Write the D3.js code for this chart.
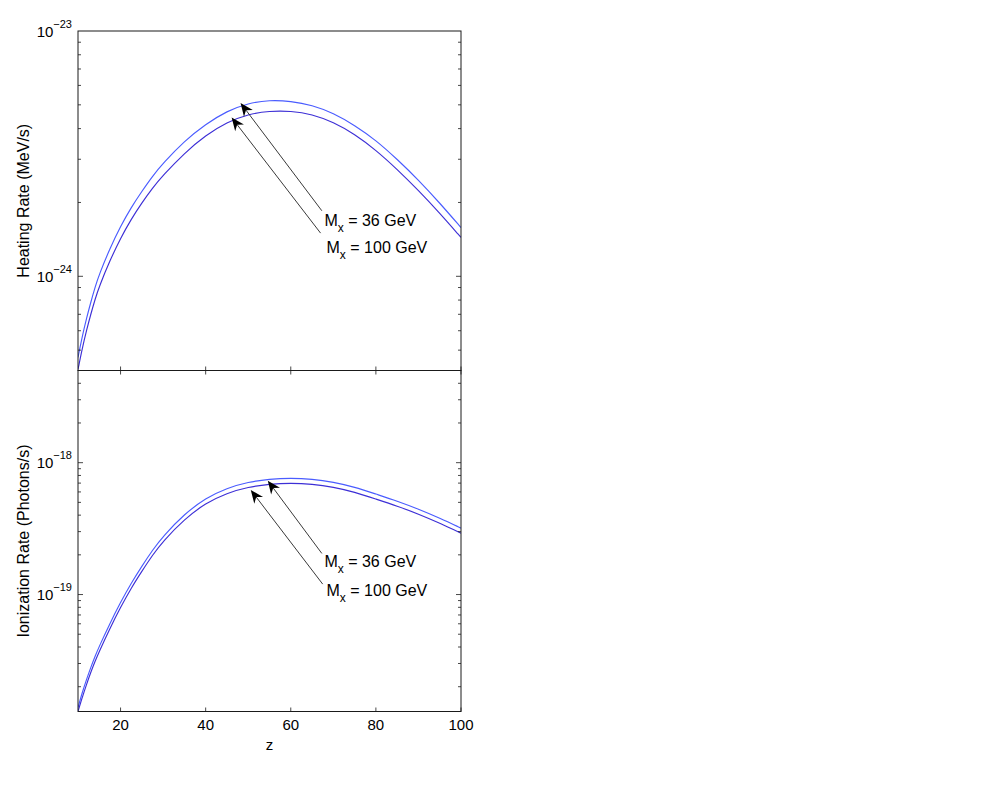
<!DOCTYPE html>
<html>
<head>
<meta charset="utf-8">
<script src="https://cdn.jsdelivr.net/npm/d3@7"></script>
<style>
  html, body { margin: 0; padding: 0; background: #fff; }
  svg { display: block; font-family: "Liberation Sans", Arial, Helvetica, sans-serif; }
</style>
</head>
<body>
<svg id="chart" width="1003" height="789"></svg>
<script>
// ---------------- data ----------------
const zValues = [10, 11, 12, 13, 14, 15, 17.5, 20, 22.5, 25, 27.5, 30, 35, 40, 45, 50, 55, 60, 65, 70, 75, 80, 85, 90, 95, 100];

const heating36 = [4.67e-25, 5.69e-25, 6.74e-25, 7.83e-25, 9.02e-25, 1.019e-24, 1.30e-24, 1.60e-24, 1.91e-24, 2.22e-24,
                   2.56e-24, 2.89e-24, 3.56e-24, 4.17e-24, 4.72e-24, 5.08e-24, 5.23e-24, 5.18e-24, 4.99e-24, 4.63e-24,
                   4.13e-24, 3.59e-24, 3.00e-24, 2.47e-24, 1.99e-24, 1.58e-24];
const heating100 = [4.17e-25, 5.08e-25, 6.02e-25, 7.00e-25, 8.05e-25, 9.10e-25, 1.16e-24, 1.43e-24, 1.71e-24, 1.99e-24,
                    2.29e-24, 2.58e-24, 3.18e-24, 3.76e-24, 4.25e-24, 4.58e-24, 4.72e-24, 4.72e-24, 4.58e-24, 4.25e-24,
                    3.80e-24, 3.27e-24, 2.73e-24, 2.24e-24, 1.81e-24, 1.44e-24];

const ionization36 = [1.39e-20, 1.81e-20, 2.27e-20, 2.80e-20, 3.40e-20, 4.05e-20, 6.05e-20, 8.74e-20, 1.22e-19, 1.64e-19,
                      2.17e-19, 2.77e-19, 4.08e-19, 5.39e-19, 6.42e-19, 7.13e-19, 7.52e-19, 7.65e-19, 7.52e-19, 7.13e-19,
                      6.54e-19, 5.78e-19, 5.12e-19, 4.45e-19, 3.80e-19, 3.19e-19];
const ionization100 = [1.30e-20, 1.66e-20, 2.08e-20, 2.57e-20, 3.11e-20, 3.71e-20, 5.54e-20, 8.01e-20, 1.12e-19, 1.50e-19,
                       1.99e-19, 2.54e-19, 3.73e-19, 4.94e-19, 5.89e-19, 6.54e-19, 6.89e-19, 7.01e-19, 6.89e-19, 6.54e-19,
                       5.99e-19, 5.30e-19, 4.69e-19, 4.08e-19, 3.48e-19, 2.92e-19];

const xTicks = [20, 40, 60, 80, 100];
const xDomain = [10, 100];
const heatingDomain = [Math.pow(10, -24.384), 1e-23];
const ionizationDomain = [Math.pow(10, -19.887), Math.pow(10, -17.301)];
const heatingTickLabels = [1e-24, 1e-23];
const ionizationTickLabels = [1e-19, 1e-18];

const massLabels = ["36 GeV", "100 GeV"];
// annotation arrows in data coordinates: [tipZ, tipVal, tailZ, tailVal, textZ, textVal]
const heatingArrows = [
  [48.2, 5.09e-24, 67.3, 1.85e-24, 67.9, 1.60e-24],
  [46.1, 4.44e-24, 67.0, 1.50e-24, 68.4, 1.25e-24]
];
const ionizationArrows = [
  [54.6, 7.30e-19, 67.3, 2.05e-19, 67.9, 1.62e-19],
  [50.6, 6.21e-19, 67.5, 1.20e-19, 68.4, 9.70e-20]
];

// ---------------- layout ----------------
const svg = d3.select("#chart");
const left = 78, right = 461;
const panels = [
  { top: 31, bottom: 370.5, domain: heatingDomain, s1: heating36, s2: heating100,
    labels: heatingTickLabels, ylabel: "Heating Rate (MeV/s)", arrows: heatingArrows, topTicks: false, xLabels: false },
  { top: 370.5, bottom: 711.5, domain: ionizationDomain, s1: ionization36, s2: ionization100,
    labels: ionizationTickLabels, ylabel: "Ionization Rate (Photons/s)", arrows: ionizationArrows, topTicks: true, xLabels: true }
];
const colors = ["#4a5cff", "#3d2fd6"];
const axisColor = "#1a1a1a";

const x = d3.scaleLinear().domain(xDomain).range([left, right]);

panels.forEach((p, pi) => {
  const y = d3.scaleLog().domain(p.domain).range([p.bottom, p.top]);
  const g = svg.append("g");

  const clipId = "clip" + pi;
  svg.append("clipPath").attr("id", clipId)
    .append("rect").attr("x", left).attr("y", p.top).attr("width", right - left).attr("height", p.bottom - p.top);

  // curves
  const line = d3.line().x((d, i) => x(zValues[i])).y(d => y(d)).curve(d3.curveBasis);
  [p.s1, p.s2].forEach((s, si) => {
    g.append("path").attr("d", line(s)).attr("fill", "none")
      .attr("stroke", colors[si]).attr("stroke-width", 1.15)
      .attr("clip-path", `url(#${clipId})`);
  });

  // y ticks (left and right, inward)
  const allTicks = y.ticks().filter(t => t >= p.domain[0] * 0.999 && t <= p.domain[1] * 1.001);
  allTicks.forEach(t => {
    const isMajor = Math.abs(Math.log10(t) - Math.round(Math.log10(t))) < 1e-6;
    const len = isMajor ? 5 : 3;
    const yy = y(t);
    g.append("line").attr("x1", left).attr("x2", left + len).attr("y1", yy).attr("y2", yy)
      .attr("stroke", axisColor).attr("stroke-width", 0.8);
    g.append("line").attr("x1", right).attr("x2", right - len).attr("y1", yy).attr("y2", yy)
      .attr("stroke", axisColor).attr("stroke-width", 0.8);
  });

  // y tick labels
  p.labels.forEach(t => {
    const e = Math.round(Math.log10(t));
    const txt = g.append("text").attr("x", left - 6).attr("y", y(t) + 5.5)
      .attr("text-anchor", "end").attr("font-size", 15).attr("fill", "#000");
    txt.append("tspan").text("10");
    txt.append("tspan").attr("dy", -9).attr("font-size", 11).text("\u2212" + Math.abs(e));
  });

  // x ticks
  xTicks.forEach(t => {
    const xx = x(t);
    g.append("line").attr("x1", xx).attr("x2", xx).attr("y1", p.bottom).attr("y2", p.bottom - 4)
      .attr("stroke", axisColor).attr("stroke-width", 0.8);
    if (p.topTicks) {
      g.append("line").attr("x1", xx).attr("x2", xx).attr("y1", p.top).attr("y2", p.top + 4)
        .attr("stroke", axisColor).attr("stroke-width", 0.8);
    }
    if (p.xLabels) {
      g.append("text").attr("x", xx).attr("y", p.bottom + 18).attr("text-anchor", "middle")
        .attr("font-size", 15).attr("fill", "#000").text(t);
    }
  });

  // frame
  g.append("rect").attr("x", left).attr("y", p.top).attr("width", right - left).attr("height", p.bottom - p.top)
    .attr("fill", "none").attr("stroke", axisColor).attr("stroke-width", 1);

  // y label
  const cy = (p.top + p.bottom) / 2;
  g.append("text").attr("transform", `translate(29,${cy}) rotate(-90)`)
    .attr("text-anchor", "middle").attr("font-size", 16).attr("fill", "#000").text(p.ylabel);

  // annotations
  p.arrows.forEach((a, ai) => {
    const tx = x(a[0]), ty = y(a[1]), sx = x(a[2]), sy = y(a[3]);
    const dx = tx - sx, dy = ty - sy, L = Math.hypot(dx, dy);
    const ux = dx / L, uy = dy / L, nx = -uy, ny = ux;
    const hl = 13, hw = 5.5, notch = 4;
    g.append("line").attr("x1", sx).attr("y1", sy)
      .attr("x2", tx - ux * (hl - notch)).attr("y2", ty - uy * (hl - notch))
      .attr("stroke", "#222").attr("stroke-width", 0.9);
    const pts = [
      [tx, ty],
      [tx - ux * hl + nx * hw, ty - uy * hl + ny * hw],
      [tx - ux * (hl - notch), ty - uy * (hl - notch)],
      [tx - ux * hl - nx * hw, ty - uy * hl - ny * hw]
    ];
    g.append("path").attr("d", "M" + pts.map(q => q.join(",")).join("L") + "Z").attr("fill", "#000");

    const t = g.append("text").attr("x", x(a[4])).attr("y", y(a[5]))
      .attr("font-size", 16).attr("fill", "#000");
    t.append("tspan").text("M");
    t.append("tspan").attr("dy", 6).attr("font-size", 12).text("x");
    t.append("tspan").attr("dy", -6).text(" = " + massLabels[ai]);
  });
});

// x label
svg.append("text").attr("x", x(55)).attr("y", 750).attr("text-anchor", "middle")
  .attr("font-size", 15).attr("fill", "#000").text("z");
</script>
</body>
</html>
